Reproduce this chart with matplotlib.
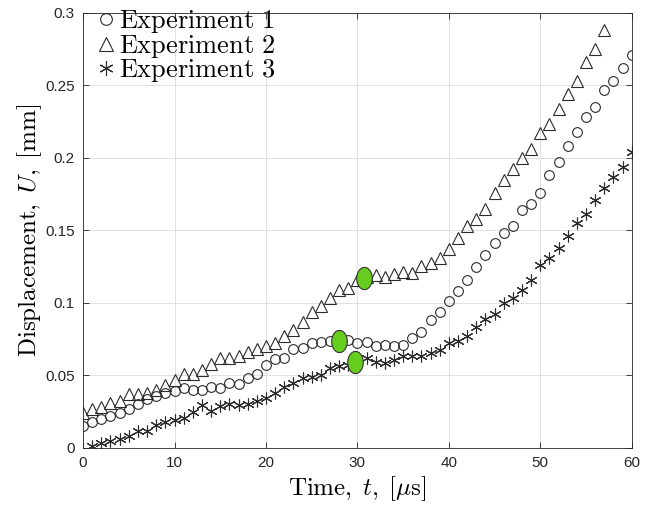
import numpy as np
import matplotlib.pyplot as plt
from matplotlib.path import Path

plt.rcParams['mathtext.fontset'] = 'cm'
plt.rcParams['font.family'] = ['Liberation Sans', 'DejaVu Sans']

# measured displacement [mm] sampled every 1 us
t1 = list(range(0, 61))
u1 = [0.015, 0.018, 0.020, 0.022, 0.024, 0.027, 0.030, 0.034, 0.036, 0.038,
      0.039, 0.041, 0.040, 0.040, 0.042, 0.041, 0.045, 0.044, 0.048, 0.051,
      0.057, 0.061, 0.062, 0.068, 0.069, 0.072, 0.073, 0.074, 0.074, 0.0745,
      0.072, 0.073, 0.070, 0.071, 0.070, 0.071, 0.076, 0.080, 0.088, 0.094,
      0.101, 0.108, 0.116, 0.125, 0.133, 0.141, 0.148, 0.153, 0.164, 0.168,
      0.176, 0.188, 0.197, 0.208, 0.218, 0.228, 0.235, 0.247, 0.253, 0.262,
      0.271]

t2 = list(range(0, 58))
u2 = [0.024, 0.027, 0.028, 0.031, 0.032, 0.037, 0.037, 0.038, 0.040, 0.043,
      0.047, 0.051, 0.051, 0.054, 0.058, 0.062, 0.062, 0.063, 0.066, 0.068,
      0.070, 0.072, 0.077, 0.081, 0.087, 0.094, 0.0975, 0.103, 0.109, 0.110,
      0.116, 0.118, 0.119, 0.118, 0.120, 0.121, 0.1205, 0.1255, 0.1275, 0.131,
      0.137, 0.145, 0.153, 0.158, 0.165, 0.176, 0.185, 0.192, 0.200, 0.206,
      0.217, 0.223, 0.234, 0.244, 0.253, 0.266, 0.275, 0.288]

t3 = list(range(1, 61))
u3 = [0.001, 0.003, 0.0045, 0.006, 0.008, 0.0117, 0.0117, 0.0155, 0.018, 0.019,
      0.0205, 0.0244, 0.0295, 0.0255, 0.029, 0.030, 0.0295, 0.030, 0.032, 0.0345,
      0.038, 0.042, 0.0446, 0.048, 0.049, 0.050, 0.055, 0.0565, 0.057, 0.060,
      0.062, 0.0595, 0.0585, 0.0607, 0.0634, 0.0634, 0.063, 0.0657, 0.0676, 0.0725,
      0.074, 0.0772, 0.083, 0.0887, 0.0924, 0.0998, 0.103, 0.109, 0.116, 0.126,
      0.131, 0.138, 0.146, 0.155, 0.161, 0.171, 0.179, 0.187, 0.194, 0.204]

# highlighted points (one per experiment)
hl_t = [28.0, 30.7, 29.7]
hl_u = [0.074, 0.117, 0.059]

xticks = [0, 10, 20, 30, 40, 50, 60]
yticks = [0, 0.05, 0.1, 0.15, 0.2, 0.25, 0.3]
ytick_labels = ['0', '0.05', '0.1', '0.15', '0.2', '0.25', '0.3']

edge = '#2b2b2b'

fig = plt.figure(figsize=(6.54, 5.13), dpi=100)
ax = fig.add_axes([0.127, 0.127, 0.839, 0.848])

ax.plot(t1, u1, 'o', ms=7, mfc='none', mec=edge, mew=0.8, ls='none',
        label=r'$\mathrm{Experiment\ 1}$')
ax.plot(t2, u2, '^', ms=8, mfc='none', mec=edge, mew=0.8, ls='none',
        label=r'$\mathrm{Experiment\ 2}$')
ax.plot(t3, u3, marker=(6, 2, 0), ms=8.5, mec=edge, mew=0.8, ls='none',
        label=r'$\mathrm{Experiment\ 3}$')

# tall ellipse marker for the highlighted points
th = np.linspace(0, 2 * np.pi, 60)
ell = Path(np.column_stack([0.7 * np.cos(th), np.sin(th)]), closed=True)
ax.plot(hl_t, hl_u, marker=ell, ms=16, mfc='#66cc1e', mec='#333333',
        mew=0.8, ls='none')

ax.set_xlim(0, 60)
ax.set_ylim(0, 0.3)
ax.set_xticks(xticks)
ax.set_yticks(yticks)
ax.set_yticklabels(ytick_labels)
ax.tick_params(direction='in', length=4, width=0.6, top=True, right=True,
               labelsize=11, colors='#262626', pad=6)
ax.grid(True, color='#dcdcdc', lw=0.6)
ax.set_axisbelow(True)
for s in ax.spines.values():
    s.set_color('#262626')
    s.set_linewidth(0.6)

ax.set_xlabel(r'$\mathrm{Time,}\;t\mathrm{,\;[}\mu\mathrm{s]}$', fontsize=18,
              labelpad=3)
ax.set_ylabel(r'$\mathrm{Displacement,}\;U\mathrm{,\;[mm]}$', fontsize=18,
              labelpad=1)

ax.legend(loc='upper left', bbox_to_anchor=(0.02, 1.01), frameon=False,
          fontsize=19, handletextpad=0.05, handlelength=0.9,
          borderaxespad=0.0, labelspacing=-0.1, borderpad=0.0,
          markerscale=1.2)

fig.savefig('out.png', dpi=100)
